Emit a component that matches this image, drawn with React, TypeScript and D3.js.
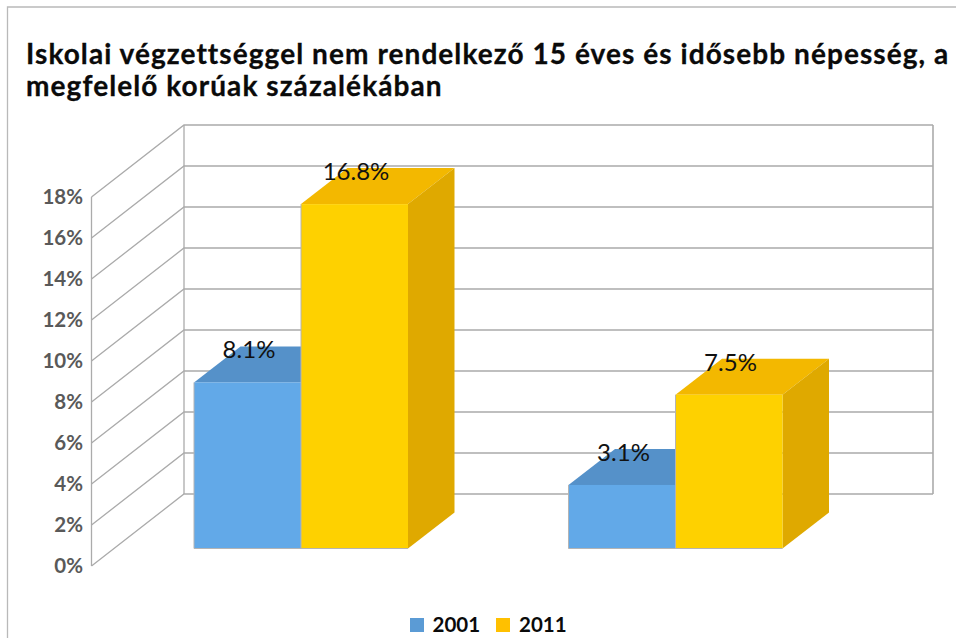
import React from "react";
import * as d3 from "d3";

const W = 956, H = 638;
const titleLines = ["Iskolai végzettséggel nem rendelkező 15 éves és idősebb népesség, a", "megfelelő korúak százalékában"];
const categories = ["A", "B"];
const seriesNames = ["2001", "2011"];
const values2001 = [8.1, 3.1];
const values2011 = [16.8, 7.5];
const ticks = [0, 2, 4, 6, 8, 10, 12, 14, 16, 18];

const colors: Record<string, { front: string; top: string; side: string; legend: string }> = {
  "2001": { front: "#62a9e8", top: "#5591c9", side: "#4f86ba", legend: "#5b9bd5" },
  "2011": { front: "#fed100", top: "#f3b800", side: "#dfa900", legend: "#ffc000" },
};

const font = "Lato, Carlito, Calibri, sans-serif";
const grid = "#ababab";
const depthX = 92.5, depthY = 72;
const barDX = 46.5, barDY = 36;
const x0 = 91.5, y0 = 566;

const y = d3.scaleLinear().domain([0, 18]).range([0, 369]); // height above floor
const groupX = d3.scalePoint<string>().domain(categories).range([194, 568.5]);
const barW = 107;
const floorY = 548.5;
const pts = (a: number[][]) => a.map((p) => p.join(",")).join(" ");

function Bar({ x, v, s }: { x: number; v: number; s: string }) {
  const top = floorY - y(v);
  const c = colors[s];
  return (
    <g>
      <polygon points={pts([[x, top], [x + barDX, top - barDY], [x + barW + barDX, top - barDY], [x + barW, top]])} fill={c.top} />
      <polygon points={pts([[x + barW, top], [x + barW + barDX, top - barDY], [x + barW + barDX, floorY - barDY], [x + barW, floorY]])} fill={c.side} />
      <rect x={x} y={top} width={barW} height={y(v)} fill={c.front} />
      <path d={`M${x} ${top}V${floorY}H${x + barW}`} fill="none" stroke="#b4b4b4" strokeWidth={1} />
    </g>
  );
}

export default function App() {
  const backRight = 933;
  return (
    <svg width={W} height={H} viewBox={`0 0 ${W} ${H}`} style={{ position: "absolute", left: 0, top: 0, background: "#fff" }}>
      <path d={`M7.5 ${H}V7H${W}`} fill="none" stroke="#b9b9b9" strokeWidth={1.3} />
      <text fontFamily={font} fontWeight={700} fontSize={28} letterSpacing={1.07} fill="#0a0a0a" stroke="#0a0a0a" strokeWidth={0.3}>
        {titleLines.map((t, i) => (
          <tspan key={i} x={26} y={64 + i * 32}>{t}</tspan>
        ))}
      </text>
      <g stroke={grid} strokeWidth={1.3} fill="none">
        {ticks.map((t) => {
          const yy = y0 - y(t);
          return (
            <path key={t} d={`M${x0} ${yy}L${x0 + depthX} ${yy - depthY}H${backRight}`} />
          );
        })}
        <path d={`M${x0} ${y0}V${y0 - y(18)}`} />
        <path d={`M${x0 + depthX} ${y0 - depthY}V${y0 - depthY - y(18)}`} />
        <path d={`M${backRight} ${y0 - depthY}V${y0 - depthY - y(18)}`} strokeWidth={1.6} />
      </g>
      {ticks.map((t) => (
        <text key={t} x={83} y={y0 - y(t) + 7} textAnchor="end" fontFamily={font} fontWeight={700} fontSize={20.5} fill="#595959">
          {t}%
        </text>
      ))}
      {categories.map((c, i) => (
        <g key={c}>
          <Bar x={groupX(c)!} v={values2001[i]} s="2001" />
          <Bar x={groupX(c)! + barW} v={values2011[i]} s="2011" />
        </g>
      ))}
      {categories.map((c, i) => (
        <g key={c} fontFamily={font} fontSize={24} fill="#111" textAnchor="middle">
          <text x={groupX(c)! + barW / 2 + 1.5} y={floorY - y(values2001[i]) - 24}>{values2001[i].toFixed(1)}%</text>
          <text x={groupX(c)! + barW * 1.5 + 1.5} y={floorY - y(values2011[i]) - 24}>{values2011[i].toFixed(1)}%</text>
        </g>
      ))}
      {seriesNames.map((s, i) => (
        <g key={s}>
          <rect x={410 + i * 86} y={618} width={14} height={14} fill={colors[s].legend} />
          <text x={432.5 + i * 86.5} y={631.5} fontFamily={font} fontWeight={700} fontSize={20.5} fill="#0a0a0a">{s}</text>
        </g>
      ))}
    </svg>
  );
}
